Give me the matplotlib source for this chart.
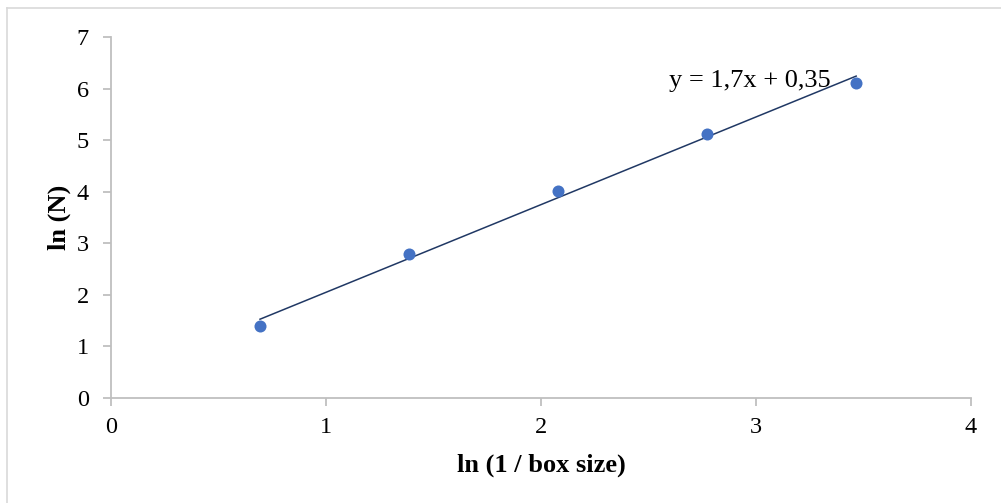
import numpy as np
import matplotlib.pyplot as plt
from matplotlib.lines import Line2D

plt.rcParams['font.family'] = ['Liberation Serif', 'DejaVu Serif']

# box-counting data
ln_inv_box = [0.693, 1.386, 2.079, 2.773, 3.466]
ln_n = [1.40, 2.79, 4.01, 5.12, 6.11]
slope, intercept = 1.7, 0.35
x_ticks = [0, 1, 2, 3, 4]
y_ticks = [0, 1, 2, 3, 4, 5, 6, 7]

fig = plt.figure(figsize=(10.01, 5.03), dpi=100)
ax = fig.add_axes([0.1109, 0.2087, 0.9700 - 0.1109, 0.9264 - 0.2087])

x = np.array(ln_inv_box)
ax.plot(x[[0, -1]], slope * x[[0, -1]] + intercept, color='#203864', lw=1.1, zorder=2)
ax.scatter(ln_inv_box, ln_n, s=75, color='#4472C4', zorder=3, linewidths=0)

ax.text(3.345, 6.03, 'y = 1,7x + 0,35', fontsize=19, ha='right', va='baseline')

ax.set_xlim(0, 4)
ax.set_ylim(0, 7)
ax.set_xticks(x_ticks)
ax.set_yticks(y_ticks)
for side in ['top', 'right']:
    ax.spines[side].set_visible(False)
for side in ['left', 'bottom']:
    ax.spines[side].set_color('#bfbfbf')
    ax.spines[side].set_linewidth(1.3)
ax.tick_params(axis='both', colors='#bfbfbf', labelcolor='black', labelsize=17.5,
               length=6, width=1.3, direction='out')
ax.tick_params(axis='x', pad=8)
ax.tick_params(axis='y', pad=10)

ax.set_xlabel('ln (1 / box size)', fontsize=19, fontweight='bold', labelpad=11)
ax.set_ylabel('ln (N)', fontsize=19, fontweight='bold', labelpad=4)

# chart frame (Excel style), only top/left visible in crop
fig.add_artist(Line2D([7 / 1001, 7 / 1001], [0, 1 - 8 / 503], transform=fig.transFigure,
                      color='#d9d9d9', lw=1.2))
fig.add_artist(Line2D([7 / 1001, 1], [1 - 8 / 503, 1 - 8 / 503], transform=fig.transFigure,
                      color='#d9d9d9', lw=1.2))

fig.savefig('out.png', dpi=100)
